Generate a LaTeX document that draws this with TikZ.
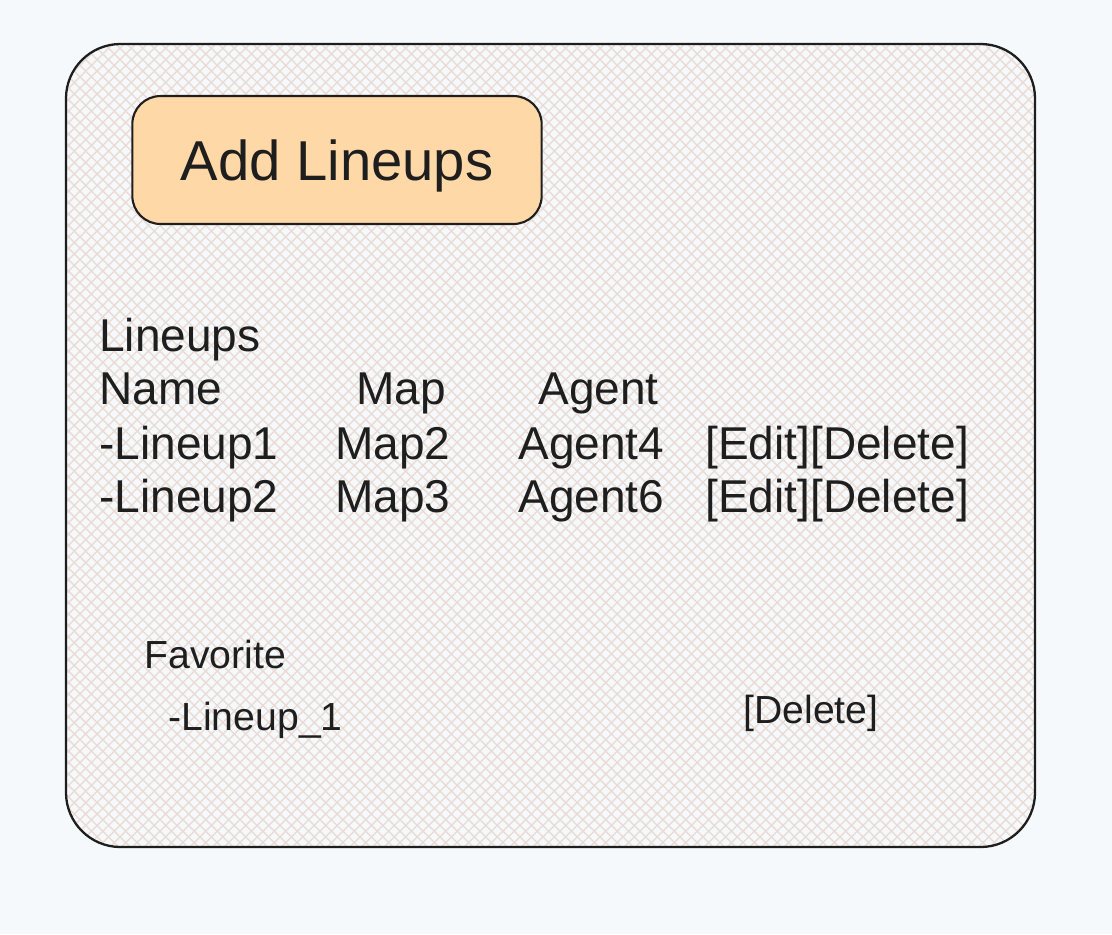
\documentclass[tikz,border=0pt]{standalone}
\usepackage{fontspec}
\setmainfont{Liberation Sans}
\usetikzlibrary{patterns.meta}

\definecolor{ink}{HTML}{1E1E1E}
\definecolor{paper}{HTML}{F5F9FC}
\definecolor{hatch}{HTML}{EADBD4}
\definecolor{peach}{HTML}{FFD8A8}

\begin{document}
\begin{tikzpicture}[x=0.02cm, y=-0.02cm, line cap=round, line join=round,
    cell/.style={anchor=base west, inner sep=0, text=ink, font=\fontsize{26.2}{31}\selectfont},
    fav/.style={anchor=base west, inner sep=0, text=ink, font=\fontsize{22.3}{27}\selectfont},
    hatched/.style={pattern={Lines[angle=#1, distance=4.6pt, line width=0.8pt]}, pattern color=hatch},
    button/.style={draw=ink, line width=1.2pt, fill=peach, rounded corners=16pt,
        minimum width=233pt, minimum height=72.8pt, text height=22.8pt, text depth=0pt,
        inner sep=0, text=ink, font=\fontsize{32}{38}\selectfont}]

    % Canvas
    \fill[paper] (0,0) rectangle (1112,934);
    \useasboundingbox (0,0) rectangle (1112,934);

    % Frame
    \path[hatched=45, rounded corners=31pt] (66,44) rectangle (1035,847);
    \path[hatched=-45, rounded corners=31pt] (66,44) rectangle (1035,847);
    \draw[ink, line width=1.3pt, rounded corners=31pt] (66,44) rectangle (1035,847);

    % Button
    \node[button] (addbtn) at (337,160) {Add Lineups};

    % Table
    \node[cell] (lineups) at (99,351) {Lineups};
    \node[cell] (hname) at (99,404) {Name};
    \node[cell] (hmap) at (356,404) {Map};
    \node[cell] (hagent) at (538,404) {Agent};

    \node[cell] (nameA) at (99,459) {-Lineup1};
    \node[cell] (mapA) at (335,459) {Map2};
    \node[cell] (agentA) at (518,459) {Agent4};
    \node[cell] (actA) at (705,459) {[Edit][Delete]};

    \node[cell] (nameB) at (99,512) {-Lineup2};
    \node[cell] (mapB) at (335,512) {Map3};
    \node[cell] (agentB) at (518,512) {Agent6};
    \node[cell] (actB) at (705,512) {[Edit][Delete]};

    % Favorites
    \node[fav] (favorite) at (144,668) {Favorite};
    \node[fav] (favA) at (168,730) {-Lineup\_1};
    \node[fav] (favdel) at (743,723) {[Delete]};

\end{tikzpicture}
\end{document}
